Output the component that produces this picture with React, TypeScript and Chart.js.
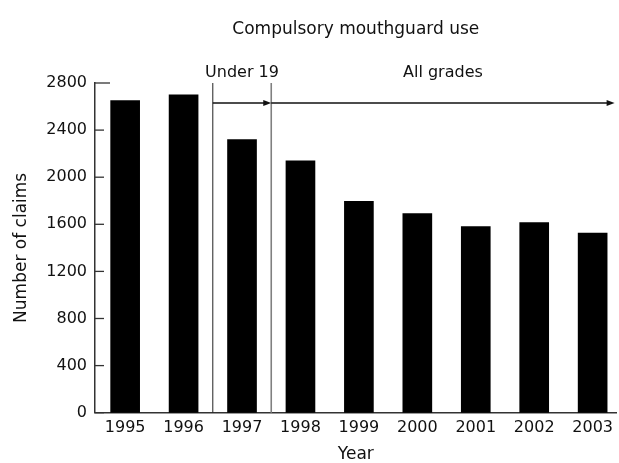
import React, { useEffect, useRef } from "react";
import { Chart, registerables } from "chart.js";

Chart.register(...registerables);

const years = [1995, 1996, 1997, 1998, 1999, 2000, 2001, 2002, 2003];
const claims = [2650, 2700, 2320, 2140, 1795, 1690, 1580, 1615, 1525];
const yTickValues = [0, 400, 800, 1200, 1600, 2000, 2400, 2800];
const phaseStarts = [1996.5, 1997.5];
const phaseLabels = ["Under 19", "All grades"];
const chartTitle = "Compulsory mouthguard use";
const xTitle = "Year";
const yTitle = "Number of claims";

const FONT = "'DejaVu Sans', sans-serif";

const annotationPlugin = {
  id: "phaseAnnotations",
  afterDatasetsDraw(chart: any) {
    const { ctx, chartArea, scales } = chart;
    const xs = scales.x;
    const ys = scales.y;
    ctx.save();
    // inward y tick marks
    ctx.strokeStyle = "#333";
    ctx.lineWidth = 1.3;
    ys.ticks.forEach((t: any) => {
      const py = ys.getPixelForValue(t.value);
      const len = t.value === ys.max ? 15 : 9;
      ctx.beginPath();
      ctx.moveTo(chartArea.left, py);
      ctx.lineTo(chartArea.left + len, py);
      ctx.stroke();
    });
    // dividers
    const px = phaseStarts.map((v) => xs.getPixelForValue(v));
    const divColors = ["#222", "#808080"];
    const divWidths = [1, 1.6];
    px.forEach((p, i) => {
      ctx.strokeStyle = divColors[i];
      ctx.lineWidth = divWidths[i];
      ctx.beginPath();
      ctx.moveTo(p, chartArea.top);
      ctx.lineTo(p, chartArea.bottom);
      ctx.stroke();
    });
    // arrows + labels
    const ends = [...px.slice(1), chartArea.right - 2];
    const arrowY = chartArea.top + 20;
    ctx.fillStyle = "#111";
    ctx.font = `16px ${FONT}`;
    ctx.textAlign = "center";
    ctx.textBaseline = "alphabetic";
    px.forEach((start, i) => {
      const end = ends[i];
      ctx.strokeStyle = "#111";
      ctx.lineWidth = 1.3;
      ctx.beginPath();
      ctx.moveTo(start, arrowY);
      ctx.lineTo(end - 5, arrowY);
      ctx.stroke();
      ctx.beginPath();
      ctx.moveTo(end, arrowY);
      ctx.lineTo(end - 8, arrowY - 3);
      ctx.lineTo(end - 8, arrowY + 3);
      ctx.closePath();
      ctx.fill();
      ctx.fillText(phaseLabels[i], (start + end) / 2, chartArea.top - 6.5);
    });
    // chart title centred over the plot area
    ctx.font = `17px ${FONT}`;
    ctx.fillText(chartTitle, (chartArea.left + chartArea.right) / 2, 34);
    ctx.restore();
  },
};

export default function App() {
  const ref = useRef<HTMLCanvasElement | null>(null);
  useEffect(() => {
    if (!ref.current) return;
    const chart = new Chart(ref.current, {
      type: "bar",
      data: {
        datasets: [
          {
            data: years.map((yr, i) => ({ x: yr, y: claims[i] })),
            backgroundColor: "#000",
            borderWidth: 0,
            barThickness: 29,
          },
        ],
      },
      options: {
        responsive: false,
        devicePixelRatio: 1,
        animation: false,
        layout: { padding: { left: 0, right: 0, top: 83, bottom: 0 } },
        plugins: {
          legend: { display: false },
          tooltip: { enabled: false },
          title: { display: false },
        },
        scales: {
          x: {
            type: "linear",
            offset: false,
            bounds: "data",
            min: 1994.484,
            max: 2003.41,
            grid: { display: false, drawTicks: false },
            border: { display: true, color: "#333", width: 1.5 },
            afterBuildTicks: (axis: any) => {
              axis.ticks = years.map((v) => ({ value: v }));
            },
            afterFit: (s: any) => {
              s.height = 50.3;
            },
            ticks: {
              color: "#111",
              font: { family: FONT, size: 16 },
              padding: 6,
              maxRotation: 0,
              autoSkip: false,
              callback: (v: any) => String(v),
            },
            title: {
              display: true,
              text: xTitle,
              color: "#111",
              font: { family: FONT, size: 17, lineHeight: 1 },
              padding: { top: 0, bottom: 0 },
            },
          },
          y: {
            min: 0,
            max: 2800,
            afterBuildTicks: (axis: any) => {
              axis.ticks = yTickValues.map((v) => ({ value: v }));
            },
            afterFit: (s: any) => {
              s.width = 95;
            },
            grid: { display: false, drawTicks: false },
            border: { display: true, color: "#333", width: 1.5 },
            ticks: {
              color: "#111",
              font: { family: FONT, size: 16 },
              padding: 8,
              callback: (v: any) => String(v),
            },
            title: {
              display: true,
              text: yTitle,
              color: "#111",
              font: { family: FONT, size: 17, lineHeight: 1 },
              padding: { top: 13, bottom: 0 },
            },
          },
        },
      },
      plugins: [annotationPlugin],
    } as any);
    return () => chart.destroy();
  }, []);
  return (
    <div style={{ position: "absolute", left: 0, top: 0, width: 619, height: 463 }}>
      <canvas ref={ref} width={619} height={463} />
    </div>
  );
}
